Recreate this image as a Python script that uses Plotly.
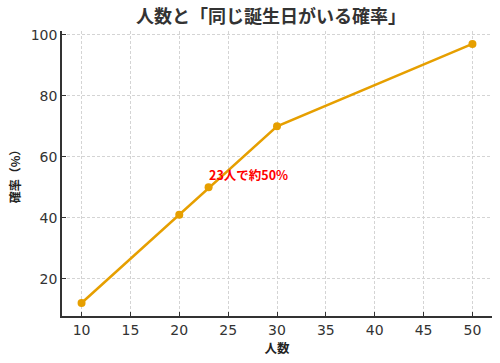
import plotly.graph_objects as go

people = [10, 20, 23, 30, 50]
prob = [12, 41, 50, 70, 97]
title_text = "人数と「同じ誕生日がいる確率」"
x_label = "人数"
y_label = "確率（%）"
note_text = "23人で約50%"
note_x, note_y = 23, 50

CJK = "Noto Sans CJK JP"
fig = go.Figure()
fig.add_trace(go.Scatter(
    x=people, y=prob, mode="lines+markers",
    line=dict(color="#E69F00", width=2.5),
    marker=dict(color="#E69F00", size=8),
    showlegend=False,
))
fig.add_annotation(
    x=note_x, y=note_y, text="<b>" + note_text + "</b>", showarrow=False,
    xanchor="left", yanchor="bottom", yshift=1, xshift=-2,
    font=dict(family=CJK, size=12.5, color="red"),
)
axis_common = dict(
    showgrid=True, gridcolor="#d4d4d4", griddash="3px,2px", gridwidth=1,
    showline=True, linecolor="#333", linewidth=1.5, mirror=False,
    ticks="inside", ticklen=4, tickcolor="#333",
    tickfont=dict(family="DejaVu Sans", size=14, color="#333"),
    zeroline=False,
)
fig.update_xaxes(range=[8, 52], dtick=5, tick0=0,
                 title=dict(text="<b>" + x_label + "</b>", font=dict(family=CJK, size=12.5, color="#222"), standoff=6),
                 **axis_common)
fig.update_yaxes(range=[7.75, 101.25], dtick=20, tick0=0,
                 title=dict(text="<b>" + y_label + "</b>", font=dict(family=CJK, size=12, color="#222"), standoff=8),
                 **axis_common)
fig.update_layout(
    width=500, height=363,
    margin=dict(l=62, r=8, t=31, b=47),
    plot_bgcolor="white", paper_bgcolor="white",
    title=dict(text="<b>" + title_text + "</b>", x=0.542, xanchor="center", y=0.953, yanchor="middle",
               font=dict(family=CJK, size=18, color="#333")),
)
fig.write_html("out.html")
